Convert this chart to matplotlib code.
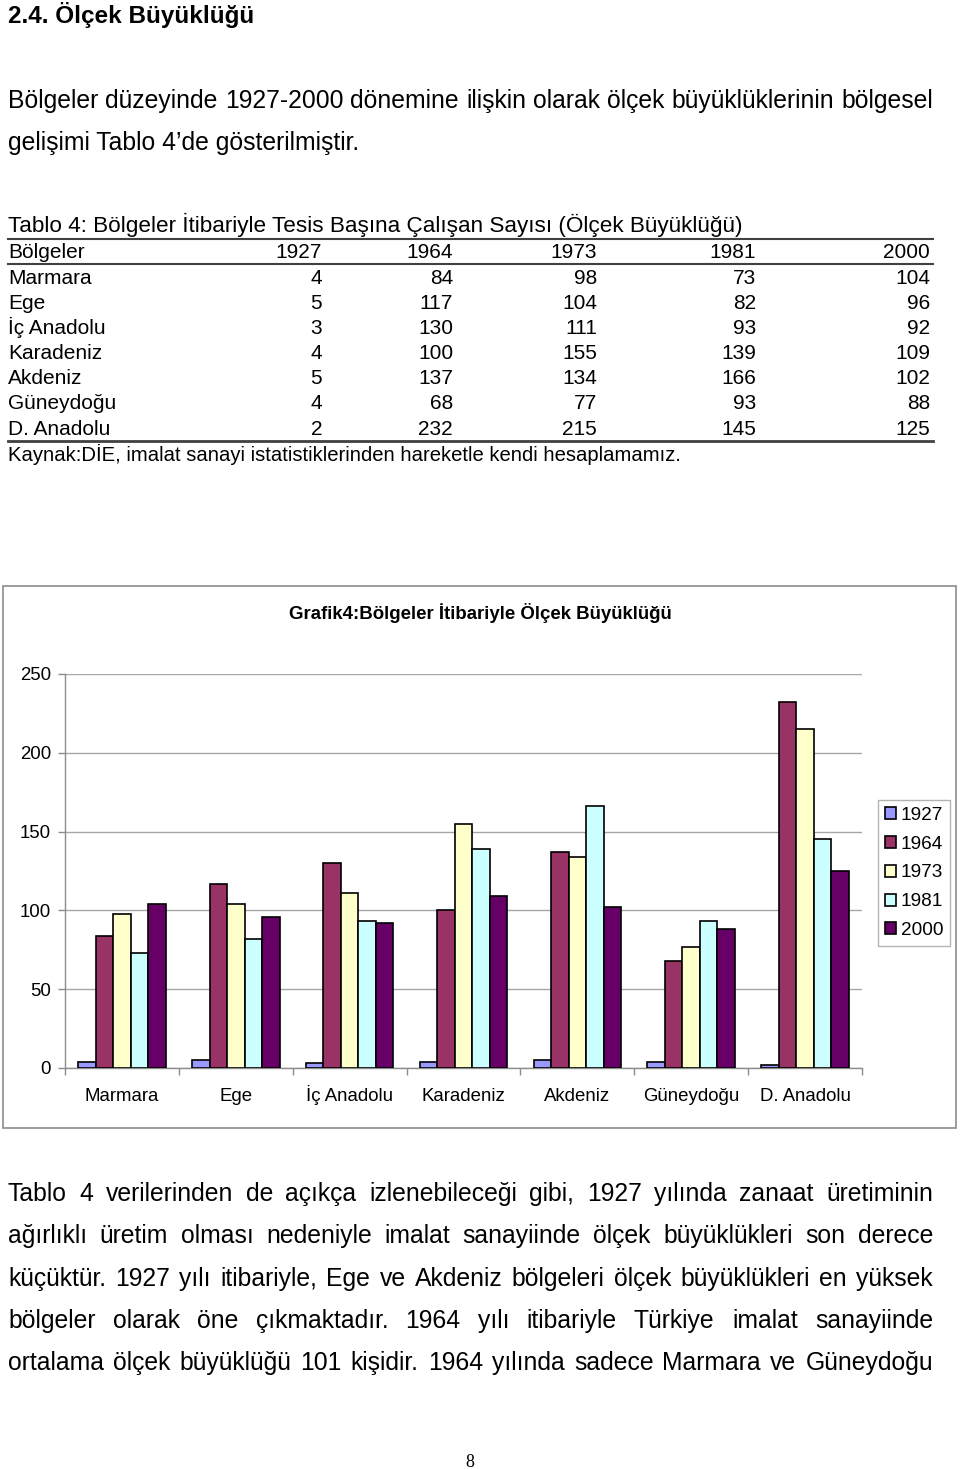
import matplotlib
matplotlib.use("Agg")
import matplotlib.pyplot as plt
from matplotlib.lines import Line2D
from matplotlib.patches import Rectangle
import numpy as np

plt.rcParams['font.family'] = ['Liberation Sans', 'DejaVu Sans']

# data ===========================================================
regions = ["Marmara", "Ege", "İç Anadolu", "Karadeniz", "Akdeniz", "Güneydoğu", "D. Anadolu"]
years = ["1927", "1964", "1973", "1981", "2000"]
v1927 = [4, 5, 3, 4, 5, 4, 2]
v1964 = [84, 117, 130, 100, 137, 68, 232]
v1973 = [98, 104, 111, 155, 134, 77, 215]
v1981 = [73, 82, 93, 139, 166, 93, 145]
v2000 = [104, 96, 92, 109, 102, 88, 125]
series = [v1927, v1964, v1973, v1981, v2000]
colors = ["#9999FF", "#993366", "#FFFFCC", "#CCFFFF", "#660066"]
yticks = [0, 50, 100, 150, 200, 250]

heading = "2.4. Ölçek Büyüklüğü"
para1 = ["Bölgeler düzeyinde 1927-2000 dönemine ilişkin olarak ölçek büyüklüklerinin bölgesel",
         "gelişimi Tablo 4’de gösterilmiştir."]
table_title = "Tablo 4: Bölgeler İtibariyle Tesis Başına Çalışan Sayısı (Ölçek Büyüklüğü)"
table_source = "Kaynak:DİE, imalat sanayi istatistiklerinden hareketle kendi hesaplamamız."
chart_title = "Grafik4:Bölgeler İtibariyle Ölçek Büyüklüğü"
para2 = ["Tablo 4 verilerinden de açıkça izlenebileceği gibi, 1927 yılında zanaat üretiminin",
         "ağırlıklı üretim olması nedeniyle imalat sanayiinde ölçek büyüklükleri son derece",
         "küçüktür. 1927 yılı itibariyle, Ege ve Akdeniz bölgeleri ölçek büyüklükleri en yüksek",
         "bölgeler olarak öne çıkmaktadır. 1964 yılı itibariyle Türkiye imalat sanayiinde",
         "ortalama ölçek büyüklüğü 101 kişidir. 1964 yılında sadece Marmara ve Güneydoğu"]
page_no = "8"
# ================================================================

W, H = 960, 1469
fig = plt.figure(figsize=(W / 100, H / 100), dpi=100)
renderer = fig.canvas.get_renderer()


def fx(x):
    return x / W


def fy(y):
    return 1 - y / H


def bl(yc, size):
    # baseline (px) from the visual centre of a line of text
    return yc + 0.33 * size * 100 / 72


def put(x, yc, s, size, **kw):
    return fig.text(fx(x), fy(bl(yc, size)), s, fontsize=size, va="baseline", **kw)


def hline(x0, x1, y, lw=1.5, color="#404040"):
    fig.add_artist(Line2D([fx(x0), fx(x1)], [fy(y), fy(y)], lw=lw, color=color,
                          transform=fig.transFigure))


def justify(line, x0, x1, yc, size):
    # place words one by one so the line fills x0..x1
    words = line.split()
    texts = [put(0, yc, w, size) for w in words]
    widths = [t.get_window_extent(renderer).width for t in texts]
    gap = (x1 - x0 - sum(widths)) / (len(words) - 1)
    x = x0
    for t, w in zip(texts, widths):
        t.set_x(fx(x))
        x += w + gap


BODY = 17.8

# heading and first paragraph
put(8, 15, heading, 17.5, fontweight="bold")
justify(para1[0], 8, 933, 100, BODY)
put(8, 142, para1[1], BODY)

# table
TS = 15
put(8, 225, table_title, 16.2)
hline(8, 933, 239)
col_right = [322, 453, 597, 756, 930]
row_y = [277, 302, 327, 352, 377, 402, 428]
put(8, 251, "Bölgeler", TS)
for cx, yr in zip(col_right, years):
    put(cx, 251, yr, TS, ha="right")
hline(8, 933, 264)
for i, reg in enumerate(regions):
    put(8, row_y[i], reg, TS)
    for cx, s in zip(col_right, series):
        put(cx, row_y[i], str(s[i]), TS, ha="right")
hline(8, 933, 441, lw=2)
put(8, 454, table_source, 14.6)

# chart frame
fig.add_artist(Rectangle((fx(3), fy(1128)), fx(956) - fx(3), fy(586) - fy(1128),
                         transform=fig.transFigure, fill=False, edgecolor="#8c8c8c", lw=1.2))
put(480, 613, chart_title, 13.4, fontweight="bold", ha="center")

ax = fig.add_axes([fx(65), fy(1068), fx(862) - fx(65), fy(674) - fy(1068)])
x = np.arange(len(regions))
bw = 1 / 6.5
for k, (s, c, yr) in enumerate(zip(series, colors, years)):
    ax.bar(x + (k - 2) * bw, s, bw, color=c, edgecolor="black", lw=1.2, label=yr, zorder=3)

ax.set_xlim(-0.5, len(regions) - 0.5)
ax.set_ylim(0, 250)
ax.set_yticks(yticks)
ax.set_yticklabels([str(t) for t in yticks], fontsize=13.4)
ax.set_xticks(x)
ax.set_xticklabels(regions, fontsize=13.4, va="baseline")
ax.set_xticks(np.arange(-0.5, len(regions)), minor=True)
ax.tick_params(axis="x", which="major", length=0, pad=24)
ax.tick_params(axis="x", which="minor", length=5, color="#8c8c8c", width=1)
ax.tick_params(axis="y", length=5, color="#8c8c8c", width=1, pad=5)
ax.grid(axis="y", color="#a6a6a6", lw=1, zorder=0)
for side in ["top", "right"]:
    ax.spines[side].set_visible(False)
for side in ["left", "bottom"]:
    ax.spines[side].set_color("#8c8c8c")
    ax.spines[side].set_linewidth(1)

leg = fig.legend(loc="center left", bbox_to_anchor=(fx(878), fy(873)), fontsize=13.7,
                 frameon=True, fancybox=False, edgecolor="#a0a0a0", borderaxespad=0,
                 handlelength=0.6, handleheight=0.6, handletextpad=0.25,
                 labelspacing=0.62, borderpad=0.35)
leg.get_frame().set_linewidth(1)

# second paragraph, justified
for i, line in enumerate(para2):
    justify(line, 8, 933, 1193 + i * 42.3, BODY)

put(470, 1461, page_no, 13, family=["Liberation Serif", "DejaVu Serif"], ha="center")

fig.savefig("out.png", dpi=100)
